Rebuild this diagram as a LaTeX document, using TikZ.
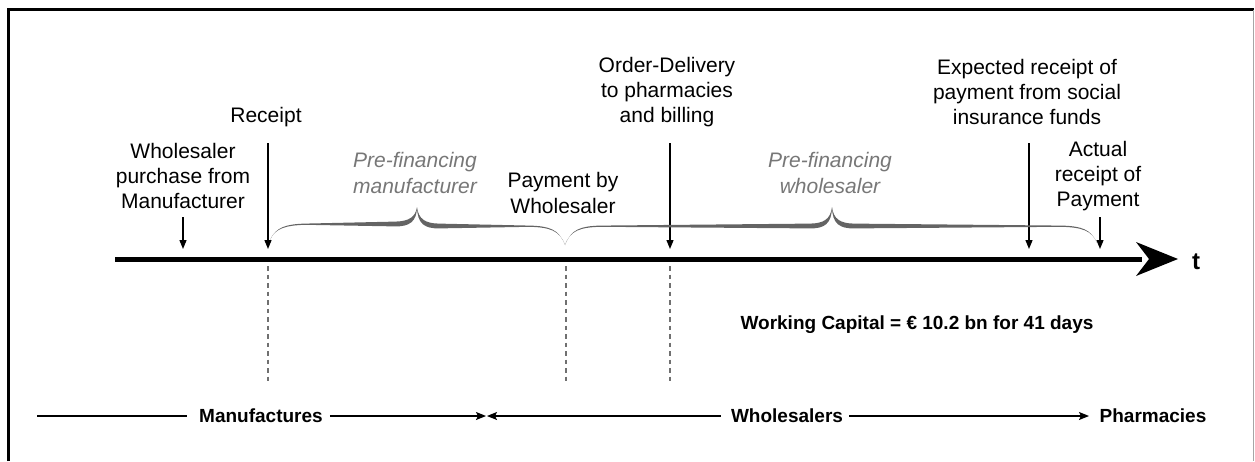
\documentclass[tikz,border=0pt]{standalone}
\usepackage{fontspec}
\setmainfont{Liberation Sans}
\usetikzlibrary{arrows.meta}

\definecolor{bracegray}{HTML}{646464}
\definecolor{notegray}{HTML}{777777}
\definecolor{dashgray}{HTML}{707070}

% one tapered half of a curly brace:
% end x, end y, level y, tip x, tip y, direction (+1 end->tip to the right, -1 to the left)
\newcommand\bracehalf[6]{%
  \fill[bracegray]
    (#1,#2) .. controls ({#1+6*(#6)},{#3+3}) and ({#1+16*(#6)},{#3+0.2}) .. ({#1+35*(#6)},{#3-0.4})
    -- ({#4-22*(#6)},{#3-2.4})
    .. controls ({#4-8*(#6)},{#3-2.6}) and ({#4-1.5*(#6)},{#3-7}) .. (#4,#5)
    .. controls ({#4-0.2*(#6)},{#3-2}) and ({#4-8*(#6)},{#3+2.6}) .. ({#4-22*(#6)},{#3+2.4})
    -- ({#1+35*(#6)},{#3+0.8})
    .. controls ({#1+16*(#6)},{#3+1.4}) and ({#1+5*(#6)},{#3+4.2}) .. (#1,#2) -- cycle;
}

\tikzset{
  event/.style={font=\fontsize{21}{25.3}\selectfont, align=center, inner sep=0pt},
  phase/.style={font=\fontsize{21}{26.5}\selectfont\itshape, text=notegray, align=center, inner sep=0pt},
  party/.style={font=\fontsize{19}{23}\selectfont\bfseries, inner sep=0pt},
  evarrow/.style={line width=1.3pt, -{Triangle[length=9pt,width=7pt]}},
  partyarrow/.style={line width=1.2pt, -{Stealth[length=10pt,width=8pt,inset=2pt]}},
  guide/.style={dashgray, line width=2.2pt, dash pattern=on 4.5pt off 4pt},
}

\begin{document}
\begin{tikzpicture}[x=1pt,y=-1pt]
\useasboundingbox (0,0) rectangle (1255,461);

% frame
\draw[line width=3pt] (8.5,461) -- (8.5,9.5) -- (1254,9.5);
\draw[line width=1pt, black!35] (1253.5,9.5) -- (1253.5,461);

% time axis
\coordinate (tstart) at (115,259);
\coordinate (tend) at (1142,259);
\draw[line width=5pt] (tstart) -- (tend);
\fill (1178,259) -- (1136,242) -- (1149,259) -- (1136,276) -- cycle;
\node[font=\fontsize{24}{26}\selectfont\bfseries, inner sep=0pt] (t) at (1196,262) {t};

% events
\node[event] (buy) at (183,176) {Wholesaler\\purchase from\\Manufacturer};
\node[event] (rec) at (266,117) {Receipt};
\node[event] (pay) at (563,193) {Payment by\\Wholesaler};
\node[event] (ord) at (667,92) {Order-Delivery\\to pharmacies\\and billing};
\node[event] (exp) at (1027,92) {Expected receipt of\\payment from social\\insurance funds};
\node[event] (act) at (1098,176) {Actual\\receipt of\\Payment};

\coordinate (buyA) at (183,217); \coordinate (buyB) at (183,249);
\coordinate (recA) at (268,143); \coordinate (recB) at (268,249);
\coordinate (ordA) at (670,143); \coordinate (ordB) at (670,249);
\coordinate (expA) at (1029,143); \coordinate (expB) at (1029,249);
\coordinate (actA) at (1100,217); \coordinate (actB) at (1100,249);
\draw[evarrow] (buyA) -- (buyB);
\draw[evarrow] (recA) -- (recB);
\draw[evarrow] (ordA) -- (ordB);
\draw[evarrow] (expA) -- (expB);
\draw[evarrow] (actA) -- (actB);

% pre-financing braces
\bracehalf{270}{240}{224}{417}{207}{1}
\bracehalf{565}{245}{226}{417}{207}{-1}
\bracehalf{565}{245}{226}{832}{207}{1}
\bracehalf{1097}{243}{226}{832}{207}{-1}
\node[phase] (pfm) at (415,173) {Pre-financing\\manufacturer};
\node[phase] (pfw) at (830,173) {Pre-financing\\wholesaler};

% guide lines below the axis
\coordinate (g1a) at (268,266); \coordinate (g1b) at (268,381);
\coordinate (g2a) at (566,266); \coordinate (g2b) at (566,381);
\coordinate (g3a) at (670,266); \coordinate (g3b) at (670,381);
\draw[guide] (g1a) -- (g1b);
\draw[guide] (g2a) -- (g2b);
\draw[guide] (g3a) -- (g3b);

\node[party] (wc) at (917,325) {Working Capital = € 10.2 bn for 41 days};

% parties along the chain
\node[party] (manu) at (261,416) {Manufactures};
\node[party] (whol) at (787,416) {Wholesalers};
\node[party] (phar) at (1153,416) {Pharmacies};
\coordinate (l0) at (37,416);
\coordinate (mid1) at (486,416);
\coordinate (mid2) at (487,416);
\coordinate (l3) at (1089,416);
\draw[line width=1.2pt] (l0) -- ([xshift=-12pt]manu.west);
\draw[partyarrow] ([xshift=7pt]manu.east) -- (mid1);
\draw[partyarrow] ([xshift=-10pt]whol.west) -- (mid2);
\draw[partyarrow] ([xshift=6pt]whol.east) -- (l3);
\end{tikzpicture}
\end{document}
